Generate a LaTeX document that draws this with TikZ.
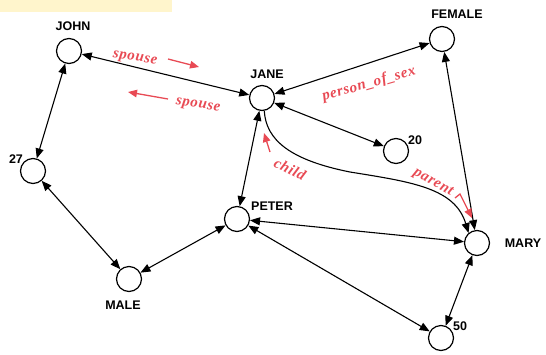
\documentclass[tikz,border=0pt]{standalone}
\usepackage{fontspec}
\setmainfont{Liberation Sans}
\newfontfamily\relfont[LetterSpace=4]{Liberation Serif}
\usetikzlibrary{arrows.meta}
\definecolor{relred}{RGB}{232,74,84}
\definecolor{notebg}{RGB}{255,245,204}
\begin{document}
\begin{tikzpicture}[x=1pt,y=-1pt,
  ent/.style={circle,draw=black,line width=1.2pt,minimum size=25pt,inner sep=0pt},
  tag/.style={font=\fontsize{12.5}{12.5}\selectfont\bfseries,inner sep=0pt},
  link/.style={line width=1.1pt,{Triangle[length=10pt,width=8pt]}-{Triangle[length=10pt,width=8pt]}},
  onelink/.style={line width=1.1pt,-{Triangle[length=10pt,width=8pt]}},
  rel/.style={text=relred,font=\relfont\fontsize{15}{15}\selectfont\bfseries\itshape,inner sep=0pt},
  relarrow/.style={draw=relred,line width=1.3pt,-{Triangle[length=9pt,width=7.5pt]},relred}]
\useasboundingbox (0,0) rectangle (546,354);
\fill[notebg] (0,0) rectangle (172,12);

% entities
\node[ent] (john)   at (69,51)  {};
\node[ent] (jane)   at (262,98) {};
\node[ent] (female) at (442,39) {};
\node[ent] (twenty) at (396,151) {};
\node[ent] (tseven) at (33,171) {};
\node[ent] (peter)  at (237,219) {};
\node[ent] (mary)   at (477,243) {};
\node[ent] (male)   at (129,279) {};
\node[ent] (fifty)  at (441,338) {};

% entity names
\node[tag] (johnT)   at (73,26)   {JOHN};
\node[tag] (janeT)   at (267,74)  {JANE};
\node[tag] (femaleT) at (457,14)  {FEMALE};
\node[tag] (twentyT) at (415,140) {20};
\node[tag] (tsevenT) at (16,159)  {27};
\node[tag] (peterT)  at (272,206) {PETER};
\node[tag] (maryT)   at (523,243) {MARY};
\node[tag] (maleT)   at (123,305) {MALE};
\node[tag] (fiftyT)  at (460,326) {50};

% relations
\draw[link] (john) -- (jane);
\draw[link] (john) -- (tseven);
\draw[link] (jane) -- (female);
\draw[link] (jane) -- (twenty);
\draw[link] (jane) -- (peter);
\draw[link] (female) -- (mary);
\draw[link] (tseven) -- (male);
\draw[link] (male) -- (peter);
\draw[link] (peter) -- (mary);
\draw[link] (peter) -- (fifty);
\draw[link] (mary) -- (fifty);
\draw[onelink] (jane.-80) .. controls (266,140) and (290,160) .. (350,172)
  .. controls (412,182) and (455,188) .. (mary.130);

% relation names
\node[rel,rotate=-8] (sp1) at (135,59) {spouse};
\node[rel,rotate=-8] (sp2) at (198,106) {spouse};
\node[rel,rotate=16] (pos) at (369,84) {person\_of\_sex};
\node[rel,rotate=-27] (chl) at (290,169) {child};
\node[rel,rotate=-29] (par) at (433,183) {parent};

\coordinate (sp1a) at (168,59);  \coordinate (sp1b) at (199,67);
\coordinate (sp2a) at (168,99);  \coordinate (sp2b) at (128,92);
\coordinate (chla) at (270,152); \coordinate (chlb) at (264,133);
\coordinate (para) at (455,198); \coordinate (parm) at (460,194); \coordinate (parb) at (472,218);
\draw[relarrow] (sp1a) -- (sp1b);
\draw[relarrow] (sp2a) -- (sp2b);
\draw[relarrow] (chla) -- (chlb);
\draw[relarrow] (para) -- (parm) -- (parb);
\end{tikzpicture}
\end{document}
